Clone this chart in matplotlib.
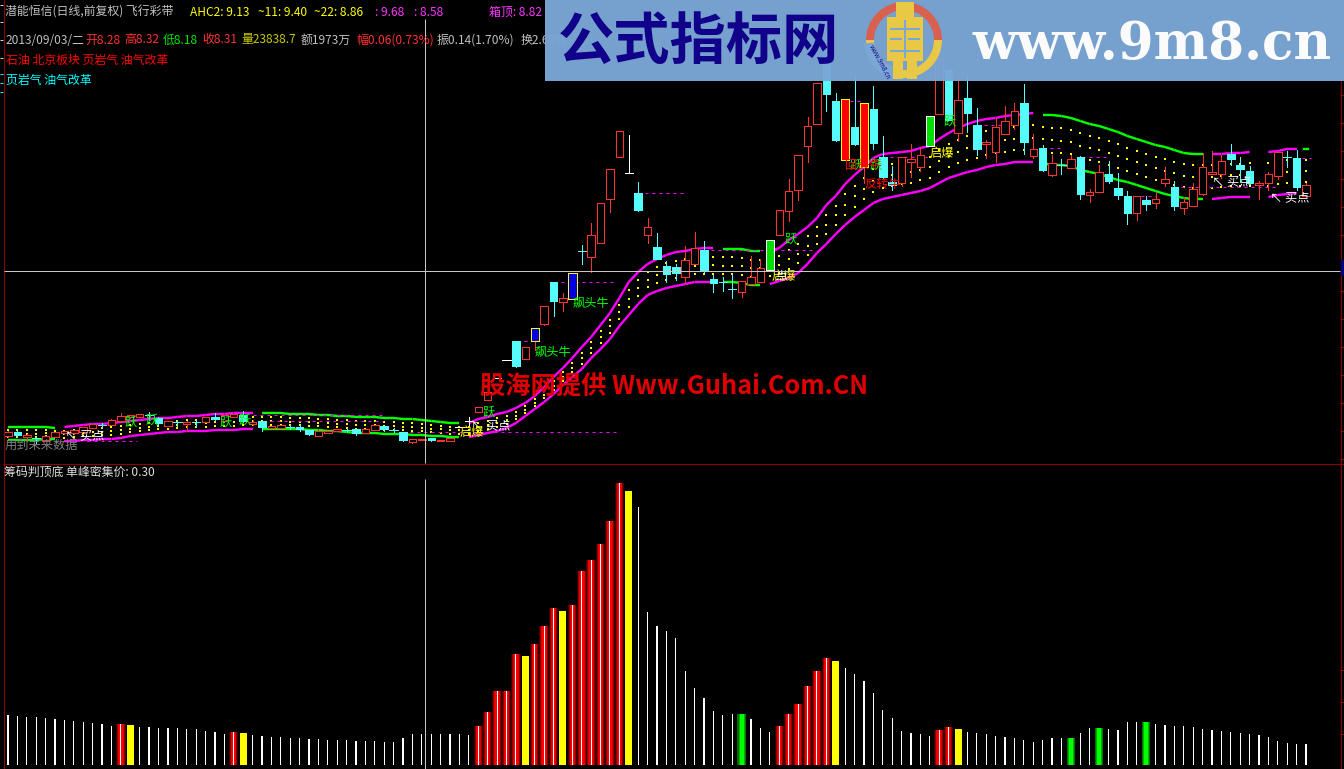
import numpy as np
import matplotlib
matplotlib.use("Agg")
import matplotlib.pyplot as plt
from matplotlib.patches import Rectangle, Wedge

plt.rcParams["font.family"] = ["Noto Sans CJK SC", "DejaVu Sans"]

open_ = [436, 432, 437, 438, 441, 437, 433, 433, 432, 428, 425, 425, 421, 417, 417, 415, 418, 426, 422, 424,
         422, 422, 417, 421, 417, 415, 424, 421, 428, 428, 427, 427, 430, 436, 433, 431, 430, 429, 433, 430,
         426, 430, 432, 442, 440, 438, 441, 441, 427, 421, 412, 400, 378, 360, 341, 359, 341, 324, 282, 302,
         299, 251, 257, 243, 199, 157, 173, 193, 235, 247, 266, 267, 277, 264, 250, 279, 282, 289, 292, 284,
         282, 270, 235, 211, 190, 146, 124, 60, 101, 160, 127, 167, 109, 157, 182, 183, 162, 167, 146, 114,
         70, 133, 98, 125, 144, 152, 134, 125, 103, 156, 148, 175, 165, 168, 157, 195, 192, 174, 188, 196,
         213, 200, 203, 183, 187, 208, 206, 194, 174, 174, 154, 165, 171, 185, 183, 176, 157, 158, 196]
close = [432, 435, 435, 438, 436, 432, 431, 430, 427, 424, 425, 420, 416, 415, 414, 415, 423, 421, 422, 422,
         422, 417, 419, 415, 414, 421, 422, 427, 426, 425, 427, 429, 434, 431, 431, 429, 430, 433, 429, 425,
         429, 430, 440, 439, 439, 440, 440, 438, 427, 421, 407, 392, 378, 360, 366, 347, 328, 306, 301, 298,
         273, 251, 235, 203, 169, 131, 173, 210, 227, 259, 274, 273, 260, 248, 270, 283, 282, 289, 281, 277,
         268, 240, 210, 191, 155, 126, 83, 94, 140, 99, 144, 103, 143, 177, 185, 157, 159, 155, 116, 60,
         120, 100, 113, 149, 142, 127, 121, 111, 142, 149, 170, 163, 165, 159, 194, 192, 172, 181, 195, 213,
         196, 204, 199, 179, 206, 202, 189, 167, 172, 161, 159, 169, 183, 183, 174, 152, 157, 187, 185]
high = [431, 430, 434, 437, 436, 432, 431, 430, 427, 424, 423, 419, 413, 415, 414, 412, 417, 421, 420, 421,
        420, 417, 413, 415, 414, 411, 420, 421, 426, 425, 425, 425, 430, 431, 431, 429, 428, 429, 429, 425,
        426, 428, 432, 439, 439, 438, 440, 438, 427, 417, 407, 392, 378, 360, 341, 347, 328, 306, 282, 293,
        273, 245, 223, 203, 169, 131, 135, 182, 218, 233, 261, 264, 246, 232, 241, 275, 277, 274, 281, 256,
        259, 240, 210, 179, 155, 117, 83, 50, 93, 99, 75, 103, 86, 136, 166, 157, 144, 147, 116, 50,
        70, 75, 75, 108, 140, 118, 106, 103, 84, 134, 145, 155, 159, 155, 156, 189, 165, 161, 173, 191,
        196, 196, 192, 167, 181, 197, 183, 153, 151, 155, 144, 157, 166, 181, 172, 152, 151, 150, 183]
low = [437, 437, 441, 443, 441, 437, 434, 434, 432, 428, 428, 425, 422, 418, 417, 419, 425, 426, 426, 431,
       426, 422, 421, 421, 417, 422, 425, 431, 428, 428, 429, 431, 435, 436, 433, 431, 432, 435, 433, 430,
       431, 432, 441, 443, 440, 441, 441, 441, 427, 425, 412, 400, 378, 360, 367, 359, 350, 325, 316, 311,
       299, 264, 272, 243, 212, 157, 173, 211, 243, 259, 282, 280, 283, 264, 273, 292, 291, 298, 297, 284,
       282, 270, 235, 221, 200, 162, 124, 111, 141, 160, 145, 183, 149, 178, 190, 186, 177, 171, 146, 114,
       120, 141, 132, 155, 158, 162, 134, 129, 154, 158, 171, 176, 174, 168, 199, 202, 192, 183, 199, 224,
       220, 210, 208, 186, 210, 214, 206, 195, 174, 178, 165, 182, 184, 199, 190, 179, 167, 190, 196]

# Special candles: body colour / border colour, and the plain white ticks
boxed_bars = [56, 60, 81, 89, 91, 98]
boxed_fill = ["#0000e0", "#0000e0", "#00e000", "#ff0000", "#ff0000", "#00e000"]
boxed_edge = ["#ffff00", "#ffff00", "#ffffff", "#ffff00", "#ffff00", "#ffffff"]
white_bars = [48, 49, 52, 53, 66]

# Flying band, upper and lower edge (nan where the band is broken)
nan = float("nan")
band_upper = [427, 427, 427, 427, 427, 428,
              427, 426, 425, 424, 424, 423, 422, 421, 420, 419, 418, 418, 417, 416, 416, 415, 414, 414, 413, 413, 413,
              413, 413, 413, 414, 414, 414, 415, 415, 416, 416, 417, 417, 417, 418, 418, 419, 419, 420, 421, 422, 423, 423,
              423, 419, 417, 414, 412, 408, 403, 396, 387, 377, 368, 358, 347, 337, 325, 313, 298, 282, 272, 264, 259, 255,
              252, 251, 249, 248, 248,
              249, 249, 249, 251, 251,
              251, 248, 240, 234, 227, 218, 205, 196, 184, 175, 167, 158, 154, 153, 152, 151, 148, 146, 139, 133, 128, 124,
              121, 119, 118, 116, 115, 114, 113,
              115, 115, 116, 118, 121, 124, 126, 129, 132, 136, 139, 142, 145, 147, 150, 153, 154, 154,
              154, 154, 153, 153, 152, nan, 152, 151, 149, 149, 149]
band_lower = [440, 440, 440, 440, 439, 439,
              441, 441, 440, 440, 439, 439, 438, 436, 435, 434, 433, 432, 432, 431, 431, 431, 430, 430, 430, 429, 429,
              429, 429, 429, 429, 429, 430, 430, 431, 431, 432, 433, 433, 433, 434, 434, 434, 435, 435, 436, 436, 437, 437,
              437, 435, 433, 431, 428, 423, 416, 409, 402, 394, 385, 377, 369, 358, 349, 339, 326, 315, 304, 295, 291, 288,
              286, 284, 282, 282, 282,
              282, 282, 283, 285, 285,
              284, 281, 278, 273, 264, 253, 244, 234, 225, 217, 210, 203, 199, 197, 195, 193, 191, 188, 183, 178, 175, 172,
              170, 167, 165, 164, 162, 162, 162,
              163, 165, 165, 166, 170, 172, 174, 177, 180, 182, 185, 188, 191, 194, 196, 198, 199, 199,
              199, 198, 197, 197, 197, nan, 197, 195, 194, 193, 193]
green_spans = [(0, 5), (27, 48), (76, 80), (110, 127), (138, 138)]

# Dashed levels: first bar, last bar, depth
dash_start = [8.4, 26, 27.1, 42, 54.1, 58, 67, 70, 74, 89.5, 93, 103, 110, 114.2, 119, 124, 137.6]
dash_end = [13.7, 39.9, 39.9, 65, 55.7, 64.7, 71.8, 72, 85.8, 91, 97.7, 105.8, 112, 117, 122, 135, 138.5]
dash_level = [441, 415, 421, 432, 341, 282, 193, 267, 250, 101, 157, 125, 148, 157, 196, 187, 158]

# Signal labels: bar, depth, text, colour
label_bar = [12.4, 14.6, 22.5, 24.5, 50.5, 82.6, 99.5, 89.5, 91.6,
             6.1, 49.2, 128, 134.2,
             48, 81.2, 98, 56, 60, 89, 91, 80.2,
             -0.35]
label_depth = [422, 420, 422, 420, 412, 239, 121, 165, 165,
               436, 426, 182, 198,
               432, 276, 153, 352, 303, 165, 184, 276,
               445]
label_text = ["跃", "跃", "跃", "跃", "跃", "跃", "跃", "跃", "跃",
              "↖ 买点", "↖ 买点", "↖ 买点", "↖ 买点",
              "启爆", "启爆", "启爆", "飙头牛", "飙头牛", "回头牛", "反转牛", "     点",
              "用到未来数据"]
label_color = ["#00ff00"] * 9 + ["#ffffff"] * 4 + ["#ffff00"] * 3 + ["#00ff00"] * 2 + ["#ff0000"] * 2 + ["#ffffff", "#808080"]

# Lower panel, chip peak histogram
chip_height = [50, 49, 48, 48, 47, 46, 45, 44, 43, 42, 41, 39, 41, 40, 38, 38, 37, 37, 37, 36,
               36, 34, 33, 31, 33, 32, 30, 29, 28, 28, 27, 27, 26, 26, 25, 25, 25, 24, 24, 24,
               23, 23, 27, 31, 31, 31, 31, 31, 31, 30, 39, 53, 74, 74, 111, 109, 121, 139, 157, 154,
               160, 194, 205, 221, 244, 282, 274, 258, 153, 139, 134, 127, 94, 77, 67, 54, 50, 51, 51, 46,
               37, 33, 39, 51, 61, 79, 94, 107, 104, 97, 91, 84, 72, 55, 47, 34, 32, 31, 29, 35,
               38, 36, 33, 32, 31, 29, 28, 27, 25, 23, 25, 27, 27, 27, 32, 37, 37, 36, 35, 43,
               43, 43, 41, 40, 39, 39, 38, 36, 35, 34, 33, 32, 31, 30, 28, 24, 22, 21, 21]
red_bars = [12, 24, 50, 51, 52, 53, 54, 56, 57, 58, 60, 61, 62, 63, 64, 65, 82, 83, 84, 85, 86, 87, 99, 100]
yellow_bars = [13, 25, 55, 59, 66, 88, 101]
green_bars = [78, 113, 116, 121]

# Header texts: x, y, text, colour
header_x = [5, 190, 258, 314, 375, 414, 489,
            6, 85, 124, 163, 202, 241, 301, 356, 437, 521,
            6, 6, 4]
header_y = [12, 12, 12, 12, 12, 12, 12,
            40, 40, 40, 40, 40, 40, 40, 40, 40, 40,
            60, 80, 472]
header_text = ["潜能恒信(日线,前复权) 飞行彩带", "AHC2: 9.13", "~11: 9.40", "~22: 8.86", ": 9.68", ": 8.58", "箱顶: 8.82",
               "2013/09/03/二", "开8.28", "高8.32", "低8.18", "收8.31", "量23838.7", "额1973万", "幅0.06(0.73%)",
               "振0.14(1.70%)", "换2.60%",
               "石油 北京板块 页岩气 油气改革", "页岩气 油气改革", "筹码判顶底 单峰密集价: 0.30"]
header_color = ["#c0c0c0", "#ffff00", "#ffff00", "#ffff00", "#ff33ff", "#ff33ff", "#ff33ff",
                "#c0c0c0", "#ff3232", "#ff3232", "#00e600", "#ff3232", "#c8c800", "#c0c0c0", "#ff3232",
                "#c0c0c0", "#c0c0c0",
                "#ff0000", "#00ffff", "#e0e0e0"]

RED = "#ff3232"
CYAN = "#54fcfc"
AXIS_RED = "#900000"
PX = 0.72  # one pixel in points
STEP = 9.406  # pixels per bar
BANNER = "#7ba7d7"


def draw_candles(ax):
    width = 7.5 / STEP
    for i in range(len(open_)):
        o, c, h, l = open_[i], close[i], high[i], low[i]
        if i in white_bars:
            ax.vlines(i, h, l, color="#ffffff", lw=PX, zorder=4, antialiased=False)
            ax.hlines(o, i - 0.45, i + 0.45, color="#ffffff", lw=PX, zorder=4, antialiased=False)
            continue
        if i in boxed_bars:
            k = boxed_bars.index(i)
            ax.vlines(i, h, l, color=RED, lw=PX, zorder=4, antialiased=False)
            ax.add_patch(Rectangle((i - 0.45, c), 0.9, o - c, facecolor=boxed_fill[k],
                                   edgecolor=boxed_edge[k], lw=PX, zorder=5, antialiased=False))
            continue
        up = c < o
        colour = RED if up else CYAN
        ax.vlines(i, h, l, color=colour, lw=PX, zorder=4, antialiased=False)
        if o == c:
            ax.hlines(o, i - 0.45, i + 0.45, color=colour, lw=PX, zorder=5, antialiased=False)
        elif up:
            ax.add_patch(Rectangle((i - width / 2, c), width, o - c, facecolor="#000000",
                                   edgecolor=colour, lw=PX, zorder=5, antialiased=False))
        else:
            ax.add_patch(Rectangle((i - width / 2, o), width, c - o, facecolor=colour,
                                   edgecolor=colour, lw=PX, zorder=5, antialiased=False))


def draw_band(ax):
    bars = np.arange(len(band_upper))
    upper = np.array(band_upper, dtype=float)
    lower = np.array(band_lower, dtype=float)
    green = np.zeros(len(bars), dtype=bool)
    for a, b in green_spans:
        green[a:b + 1] = True

    # dotted fill between the two edges
    for frac in (0.25, 0.5, 0.75):
        ax.scatter(bars, upper + (lower - upper) * frac, s=0.7, marker="s", color="#ffff00",
                   linewidths=0, zorder=2)

    for edge in (upper, lower):
        for i in range(len(bars) - 1):
            if green[i] != green[i + 1]:
                continue
            colour = "#00ff00" if green[i] else "#ff00ff"
            ax.plot(bars[i:i + 2], edge[i:i + 2], color=colour, lw=2.4 * PX, solid_capstyle="butt", zorder=3)
    # the lone last bar of the green edge
    for edge in (upper, lower):
        ax.plot([bars[-1] - 0.2, bars[-1] + 0.2], [edge[-1], edge[-1]], color="#00ff00", lw=2.4 * PX, zorder=3)


def draw_chips(ax):
    bars = np.arange(len(chip_height))
    for i in bars:
        h = chip_height[i]
        if i in red_bars:
            for w, colour in ((9.4, "#3a0000"), (7.5, "#8a0000"), (5.5, "#e00000"), (3.5, "#ff0000"), (1, "#ffffff")):
                ax.bar(i, h, width=w / STEP, color=colour, linewidth=0, zorder=3)
        elif i in green_bars:
            for w, colour in ((8.5, "#007000"), (6, "#00b000"), (4, "#00ff00")):
                ax.bar(i, h, width=w / STEP, color=colour, linewidth=0, zorder=3)
        elif i in yellow_bars:
            ax.bar(i, h, width=7 / STEP, color="#ffff00", linewidth=0, zorder=3)
        else:
            ax.bar(i, h, width=1.2 / STEP, color="#ffffff", linewidth=0, zorder=3)


def draw_banner(ax):
    ax.add_patch(Rectangle((545, 0), 799, 81, facecolor=BANNER, edgecolor="none", alpha=0.97, zorder=20))
    ax.text(558, 42, "公式指标网", fontsize=40.5, fontweight="bold", color="#10008a", va="center", zorder=21)
    ax.text(972, 44, "www.9m8.cn", fontsize=37.2, family="DejaVu Serif", fontweight="bold", color="#fbfbfb",
            va="center", zorder=21)

    # round logo, axes are upside down so the angles are mirrored
    ax.add_patch(Wedge((904, 40), 38, 180, 360, width=8, facecolor="#d9604c", edgecolor="none", zorder=21))
    ax.add_patch(Wedge((904, 40), 38, 0, 180, width=8, facecolor="#e8c845", edgecolor="none", zorder=21))
    ax.add_patch(Wedge((904, 40), 40, 100, 175, width=10, facecolor=BANNER, edgecolor="none", zorder=22))
    ax.text(880, 62, "www.9m8.cn", fontsize=4.5, color="#10008a", rotation=-62, ha="center", va="center", zorder=23)
    for x, y, w, h in ((896, 2, 18, 15), (887, 17, 36, 44), (893, 61, 10, 18), (907, 61, 10, 18)):
        ax.add_patch(Rectangle((x, y), w, h, facecolor="#e8c845", edgecolor="none", zorder=23))
    for x, y, w, h in ((890, 28, 30, 2), (890, 38, 12, 2), (908, 38, 12, 2), (890, 50, 30, 2), (904, 20, 2, 38)):
        ax.add_patch(Rectangle((x, y), w, h, facecolor=BANNER, edgecolor="none", zorder=24))


def main():
    fig = plt.figure(figsize=(13.44, 7.69), dpi=100, facecolor="#000000")
    x_left, x_right = -8 / STEP, (1344 - 8) / STEP

    ax = fig.add_axes([0, 306 / 769, 1, 463 / 769], facecolor="#000000")
    ax.set_xlim(x_left, x_right)
    ax.set_ylim(463, 0)
    ax.axis("off")

    draw_band(ax)
    ax.hlines(dash_level, dash_start, dash_end, color="#ff00ff", lw=PX, linestyles=(0, (3, 4)), zorder=3)
    draw_candles(ax)
    for b, d, s, c in zip(label_bar, label_depth, label_text, label_color):
        ax.text(b, d, s, color=c, fontsize=8.8, va="center", ha="left", zorder=6)
    ax.text(50.2, 387, "股海网提供 Www.Guhai.Com.CN", color="#e00000", fontsize=18.2, fontweight="bold",
            va="center", ha="left", zorder=7)

    low_ax = fig.add_axes([0, 0, 1, 306 / 769], facecolor="#000000")
    low_ax.set_xlim(x_left, x_right)
    low_ax.set_ylim(-4, 302)
    low_ax.axis("off")
    draw_chips(low_ax)

    # frame, crosshair, header and banner in picture pixels
    top = fig.add_axes([0, 0, 1, 1], facecolor="none")
    top.set_xlim(0, 1344)
    top.set_ylim(769, 0)
    top.axis("off")

    top.vlines(3.5, 0, 769, color=AXIS_RED, lw=PX)
    top.vlines(1340.5, 0, 769, color=AXIS_RED, lw=PX)
    top.hlines(463.5, 3, 1344, color=AXIS_RED, lw=PX)
    top.hlines(np.arange(95, 460, 28), 1340, 1344, color=AXIS_RED, lw=PX)
    top.hlines([670, 702, 734], 1340, 1344, color=AXIS_RED, lw=PX)
    top.hlines([5, 22, 40, 58], 0, 3, color="#d0d0d0", lw=PX)
    top.hlines([74, 83, 92], 0, 3, color="#00ffff", lw=PX)
    top.vlines(424.5, 19, 463, color="#c8c8c8", lw=PX, zorder=8)
    top.vlines(424.5, 479, 769, color="#c8c8c8", lw=PX, zorder=8)
    top.hlines(270.5, 4, 1340, color="#c8c8c8", lw=PX, zorder=8)
    top.add_patch(Rectangle((1341, 260), 3, 16, facecolor="#000080", edgecolor="none", zorder=8))

    for x, y, s, c in zip(header_x, header_y, header_text, header_color):
        top.text(x, y, s, color=c, fontsize=8.6, va="center", ha="left", zorder=9)

    draw_banner(top)

    fig.savefig("out.png", dpi=100, facecolor="#000000")
    plt.close(fig)


if __name__ == "__main__":
    main()
